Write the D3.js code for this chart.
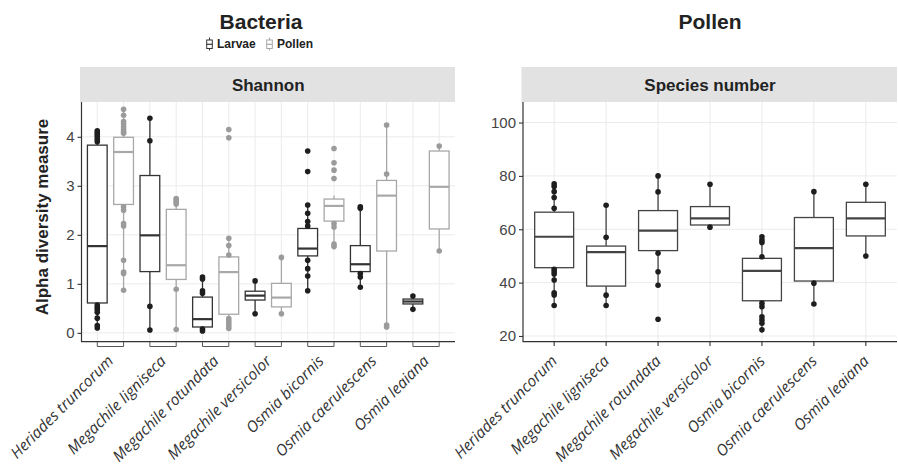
<!DOCTYPE html>
<html>
<head>
<meta charset="utf-8">
<script src="https://cdn.jsdelivr.net/npm/d3@7"></script>
<style>
body { margin: 0; background: #fff; }
text { font-family: "Liberation Sans", Arial, sans-serif; }
.xlab { font-family: "Open Sans", sans-serif; font-style: italic; }
</style>
</head>
<body>
<svg id="chart" width="898" height="465"></svg>
<script>
// ---- data ----
var species = ["Heriades truncorum", "Megachile ligniseca", "Megachile rotundata",
    "Megachile versicolor", "Osmia bicornis", "Osmia caerulescens", "Osmia leaiana"];
var sampleTypes = ["Larvae", "Pollen"];

// [lower whisker, q1, median, q3, upper whisker]
var shannonLarvae = [
    [0.10, 0.61, 1.77, 3.83, 4.12],
    [0.06, 1.25, 1.99, 3.21, 4.38],
    [0.05, 0.12, 0.28, 0.73, 1.14],
    [0.39, 0.67, 0.76, 0.85, 1.06],
    [0.87, 1.57, 1.72, 2.13, 2.61],
    [0.93, 1.25, 1.40, 1.78, 2.57],
    [0.48, 0.59, 0.64, 0.69, 0.75]
];
var shannonLarvaeDots = [
    [4.12, 4.08, 4.04, 4.00, 3.95, 3.90, 0.57, 0.52, 0.47, 0.42, 0.30, 0.15, 0.10],
    [4.38, 3.92, 0.54, 0.06],
    [1.14, 1.10, 0.86, 0.81, 0.08, 0.04],
    [1.06, 0.39],
    [3.71, 3.29, 2.61, 2.44, 2.27, 2.18, 1.48, 1.31, 1.16, 0.86],
    [2.57, 2.54, 1.21, 1.14, 0.93],
    [0.75, 0.48]
];
var shannonPollen = [
    [0.87, 2.62, 3.69, 3.99, 4.56],
    [0.07, 1.09, 1.38, 2.52, 2.74],
    [0.09, 0.38, 1.24, 1.55, 1.93],
    [0.39, 0.53, 0.72, 1.01, 1.54],
    [1.76, 2.28, 2.59, 2.73, 2.80],
    [0.12, 1.67, 2.80, 3.11, 4.24],
    [1.67, 2.12, 2.98, 3.71, 3.81]
];
var shannonPollenDots = [
    [4.56, 4.44, 4.31, 4.26, 4.20, 4.15, 4.10, 4.07, 2.57, 2.50, 2.23, 2.18, 1.48, 1.24, 1.21, 0.87],
    [2.74, 2.71, 2.67, 2.63, 0.89, 0.07],
    [4.15, 3.98, 1.93, 1.78, 1.59, 0.29, 0.24, 0.19, 0.14, 0.09],
    [1.54, 0.39],
    [3.76, 3.47, 3.32, 3.15, 2.23, 2.16, 1.81, 1.76],
    [4.24, 3.24, 0.16, 0.12],
    [3.81, 1.67]
];
var speciesNumber = [
    [31.4, 45.6, 57.2, 66.4, 77.3],
    [31.4, 38.7, 51.4, 53.7, 69.0],
    [39.0, 52.0, 59.5, 67.0, 80.0],
    [60.8, 61.6, 64.1, 68.5, 76.9],
    [22.3, 33.2, 44.4, 49.1, 57.2],
    [32.0, 40.6, 52.9, 64.4, 74.1],
    [50.0, 57.5, 64.1, 70.1, 76.9]
];
var speciesNumberDots = [
    [77.0, 76.0, 74.1, 71.9, 67.9, 45.0, 44.1, 43.2, 41.0, 36.2, 35.4, 31.4],
    [69.0, 57.0, 35.3, 31.4],
    [80.0, 74.0, 51.0, 44.1, 39.0, 26.3],
    [76.9, 60.8],
    [57.2, 56.0, 55.0, 49.7, 32.3, 31.0, 27.2, 26.0, 24.8, 22.3],
    [74.1, 39.8, 32.0],
    [76.9, 50.0]
];
var shannonTicks = [0, 1, 2, 3, 4];
var speciesTicks = [20, 40, 60, 80, 100];

// ---- layout ----
var svg = d3.select("#chart");
var top_ = 102, bottom_ = 341.7;
var col = {
    Larvae: {line: "#333", dot: "#1e1e1e"},
    Pollen: {line: "#a8a8a8", dot: "#9b9b9b"}
};

var keysL = [];
species.forEach(function (s) { sampleTypes.forEach(function (t) { keysL.push(s + "|" + t); }); });

var xL = d3.scalePoint().domain(keysL).range([81.5, 455]).padding(0.6);
var yL = d3.scaleLinear().domain([-0.18, 4.71]).range([bottom_, top_]);
var xR = d3.scalePoint().domain(species).range([523, 897]).padding(0.6);
var yR = d3.scaleLinear().domain([17.86, 107.7]).range([bottom_, top_]);

function panel(x0, x1, y, yTicks, vx, stripText) {
    var g = svg.append("g");
    g.selectAll(".vg").data(vx).enter().append("line")
        .attr("x1", function (d) { return d; }).attr("x2", function (d) { return d; })
        .attr("y1", top_).attr("y2", bottom_)
        .attr("stroke", "#ebebeb").attr("stroke-width", 1);
    g.selectAll(".hg").data(yTicks).enter().append("line")
        .attr("x1", x0).attr("x2", x1)
        .attr("y1", function (d) { return y(d); }).attr("y2", function (d) { return y(d); })
        .attr("stroke", "#ebebeb").attr("stroke-width", 1);
    // strip
    g.append("rect").attr("x", x0 - 1.5).attr("y", 67).attr("width", x1 - x0 + 1.5).attr("height", 35)
        .attr("fill", "#e2e2e2");
    g.append("text").text(stripText).attr("x", (x0 + x1) / 2).attr("y", 90.5)
        .attr("text-anchor", "middle").style("font-size", "17px").style("font-weight", 700).attr("fill", "#222");
    return g;
}

function boxes(g, stats, dots, xf, y, bw, c) {
    stats.forEach(function (s, i) {
        var cx = xf(i);
        var b = g.append("g");
        b.append("line").attr("x1", cx).attr("x2", cx).attr("y1", y(s[0])).attr("y2", y(s[1]))
            .attr("stroke", c.line).attr("stroke-width", 1.3);
        b.append("line").attr("x1", cx).attr("x2", cx).attr("y1", y(s[3])).attr("y2", y(s[4]))
            .attr("stroke", c.line).attr("stroke-width", 1.3);
        b.append("rect").attr("x", cx - bw / 2).attr("width", bw)
            .attr("y", y(s[3])).attr("height", y(s[1]) - y(s[3]))
            .attr("fill", "#fff").attr("stroke", c.line).attr("stroke-width", 1.3);
        b.append("line").attr("x1", cx - bw / 2).attr("x2", cx + bw / 2)
            .attr("y1", y(s[2])).attr("y2", y(s[2]))
            .attr("stroke", c.line).attr("stroke-width", 2.2);
        b.selectAll("circle").data(dots[i]).enter().append("circle")
            .attr("cx", cx).attr("cy", function (d) { return y(d); }).attr("r", 2.8)
            .attr("fill", c.dot);
    });
}

function yAxis(x0, y, ticks) {
    var ax = svg.append("g").attr("transform", "translate(" + x0 + ",0)")
        .call(d3.axisLeft(y).tickValues(ticks).tickFormat(d3.format("d")).tickSize(4).tickPadding(3));
    ax.select(".domain").remove();
    ax.selectAll("line").attr("stroke", "#333").attr("stroke-width", 1.1);
    ax.selectAll("text").style("font-size", "15px").attr("fill", "#444")
        .style("font-family", "'Liberation Sans', Arial, sans-serif");
}

function axisLines(x0, x1) {
    svg.append("path").attr("d", "M" + x0 + "," + top_ + "V" + bottom_ + "H" + x1)
        .attr("fill", "none").attr("stroke", "#333").attr("stroke-width", 1.2);
}

function xLabels(xs) {
    svg.append("g").selectAll("text").data(species).enter().append("text")
        .attr("class", "xlab")
        .attr("transform", function (d, i) { return "translate(" + (xs[i] + 4) + ",362) rotate(-45)"; })
        .attr("text-anchor", "end").style("font-size", "15.5px").attr("fill", "#333")
        .text(function (d) { return d; });
}

// ---- left panel: Shannon ----
var gL = panel(81.5, 455, yL, shannonTicks, keysL.map(function (k) { return xL(k); }), "Shannon");
var bwL = xL.step() * 0.75;
boxes(gL, shannonLarvae, shannonLarvaeDots, function (i) { return xL(species[i] + "|Larvae"); }, yL, bwL, col.Larvae);
boxes(gL, shannonPollen, shannonPollenDots, function (i) { return xL(species[i] + "|Pollen"); }, yL, bwL, col.Pollen);
yAxis(81.5, yL, shannonTicks);
axisLines(81.5, 455);
// paired x ticks
svg.append("g").selectAll("path").data(species).enter().append("path")
    .attr("d", function (d) {
        return "M" + xL(d + "|Larvae") + "," + bottom_ + "V346.5H" + xL(d + "|Pollen") + "V" + bottom_;
    })
    .attr("fill", "none").attr("stroke", "#555").attr("stroke-width", 1);
xLabels(species.map(function (d) { return (xL(d + "|Larvae") + xL(d + "|Pollen")) / 2; }));

svg.append("text").text("Alpha diversity measure")
    .attr("transform", "translate(48,217) rotate(-90)").attr("text-anchor", "middle")
    .style("font-size", "17px").style("font-weight", 700).attr("fill", "#222");

// ---- right panel: Species number ----
var gR = panel(523, 897, yR, speciesTicks, species.map(function (d) { return xR(d); }), "Species number");
boxes(gR, speciesNumber, speciesNumberDots, function (i) { return xR(species[i]); }, yR, xR.step() * 0.75,
    {line: "#444", dot: "#1e1e1e"});
yAxis(523, yR, speciesTicks);
axisLines(523, 897);
svg.append("g").selectAll("line").data(species).enter().append("line")
    .attr("x1", function (d) { return xR(d); }).attr("x2", function (d) { return xR(d); })
    .attr("y1", bottom_).attr("y2", 346)
    .attr("stroke", "#333").attr("stroke-width", 1.1);
xLabels(species.map(function (d) { return xR(d); }));

// ---- titles and legend ----
svg.append("text").text("Bacteria").attr("x", 261).attr("y", 28.5).attr("text-anchor", "middle")
    .style("font-size", "21px").style("font-weight", 700).attr("fill", "#222");
svg.append("text").text("Pollen").attr("x", 710).attr("y", 28.5).attr("text-anchor", "middle")
    .style("font-size", "21px").style("font-weight", 700).attr("fill", "#222");

var legX = [209.5, 269.5];
var leg = svg.append("g").selectAll("g").data(sampleTypes).enter().append("g")
    .attr("transform", function (d, i) { return "translate(" + legX[i] + ",44)"; });
leg.append("line").attr("y1", -6.5).attr("y2", 6.5)
    .attr("stroke", function (d) { return col[d].line; }).attr("stroke-width", 1);
leg.append("rect").attr("x", -2.8).attr("y", -4).attr("width", 5.6).attr("height", 8.5)
    .attr("fill", "#fff").attr("stroke", function (d) { return col[d].line; }).attr("stroke-width", 1);
leg.append("line").attr("x1", -2.8).attr("x2", 2.8).attr("y1", 0.3).attr("y2", 0.3)
    .attr("stroke", function (d) { return col[d].line; }).attr("stroke-width", 1.2);
leg.append("text").text(function (d) { return d; }).attr("x", 7.5).attr("y", 4.3)
    .style("font-size", "12px").style("font-weight", 700).attr("fill", "#222");
</script>
</body>
</html>
